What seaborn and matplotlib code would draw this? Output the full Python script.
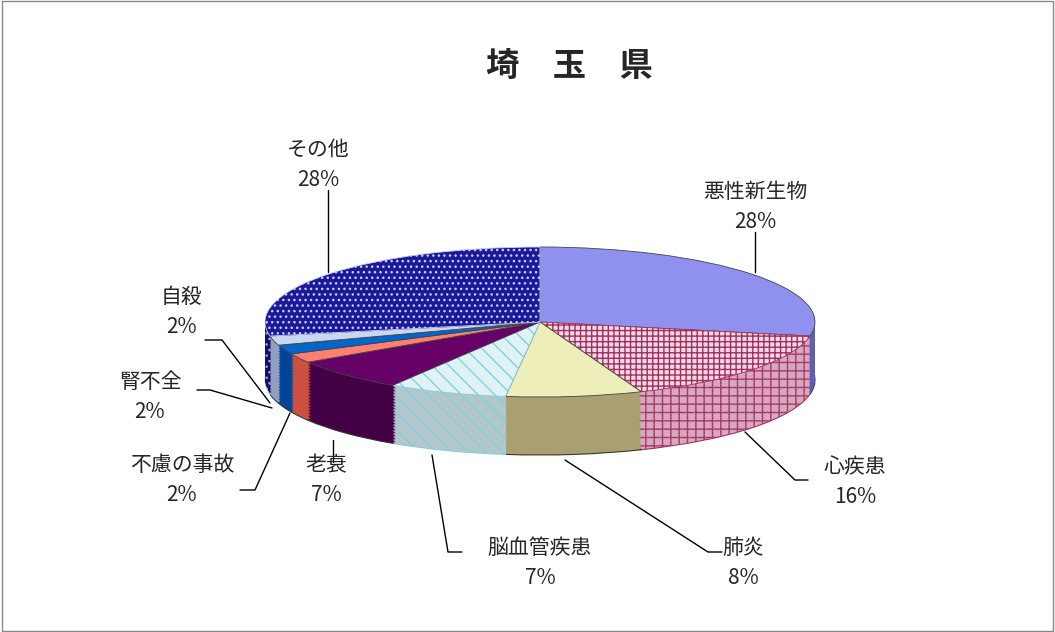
import numpy as np
import seaborn as sns
import matplotlib.pyplot as plt
from matplotlib.patches import Rectangle

sns.set_theme(style="white")
plt.rcParams['font.family'] = ['Noto Sans CJK JP', 'DejaVu Sans']

causes = ['悪性新生物', '心疾患', '肺炎', '脳血管疾患', '老衰', '不慮の事故', '腎不全', '自殺', 'その他']
shares = [28, 16, 8, 7, 7, 2, 2, 2, 28]
top_colors = ['#9090ee', '#f4d8e4', '#eeeebb', '#dff2f4', '#660066', '#ff8070', '#0066cc', '#c8d8f0', '#1a1a99']
side_colors = ['#6060b0', '#d8a8c0', '#a8a070', '#b0c8cc', '#440044', '#cc5040', '#004499', '#90a0c0', '#101066']
hatches = [None, '+++', None, '\\\\', None, None, None, None, '...']
side_hatches = [None, '++', None, '\\\\', None, None, None, None, '...']
hatch_colors = ['none', '#a03060', 'none', '#88ccdd', 'none', 'none', 'none', 'none', '#ccccff']

W, H = 1055, 632
cx, cy, rx, ry, depth = 540, 322, 275, 75, 58
k = rx / ry

fig = plt.figure(figsize=(W / 100, H / 100), dpi=100)
ax = fig.add_axes([0, 0, 1, 1])

def Y(py):
    return (H - py) * k

# side walls: bottom outline first, then a stack of darker pies
w, _ = ax.pie(shares, colors=side_colors, startangle=90, counterclock=False,
              center=(cx, Y(cy + depth)), radius=rx, frame=True,
              wedgeprops=dict(linewidth=0.8, edgecolor='#333333'))
for wd, h, hc in zip(w, side_hatches, hatch_colors):
    if h:
        wd.set_hatch(h); wd.set_edgecolor(hc)
for d in np.arange(depth - 1, 0, -1.5):
    w, _ = ax.pie(shares, colors=side_colors, startangle=90, counterclock=False,
                  center=(cx, Y(cy + d)), radius=rx,
                  wedgeprops=dict(linewidth=0), frame=True)
    for wd, h, hc in zip(w, side_hatches, hatch_colors):
        if h:
            wd.set_hatch(h); wd.set_edgecolor(hc)
# top
w, _ = ax.pie(shares, colors=top_colors, startangle=90, counterclock=False,
              center=(cx, Y(cy)), radius=rx, frame=True,
              wedgeprops=dict(linewidth=0.6, edgecolor='#444444'))
for wd, h, hc in zip(w, hatches, hatch_colors):
    if h:
        wd.set_hatch(h); wd.set_edgecolor(hc)
ax.set_aspect('auto')
ax.set_xlim(0, W)
ax.set_ylim(0, H * k)
ax.axis('off')
fig.patches.append(Rectangle((0.002, 0.002), 0.996, 0.996, transform=fig.transFigure,
                             fill=False, edgecolor='#888888', lw=1))

fig.text(0.54, 0.88, '埼　玉　県', ha='center', fontsize=24, fontweight='bold')

labels = [
    (755, 207, 'center'),
    (855, 482, 'center'),
    (743, 563, 'center'),
    (540, 563, 'center'),
    (326, 480, 'center'),
    (182, 480, 'center'),
    (150, 397, 'center'),
    (182, 312, 'center'),
    (318, 165, 'center'),
]
for (tx, ty, ha), name, v in zip(labels, causes, shares):
    ax.text(tx, Y(ty), f'{name}\n{v}%', ha=ha, va='center', fontsize=15, linespacing=1.45)

segs = [
    [(755, 232), (755, 272)],
    [(808, 480), (795, 480), (745, 432)],
    [(722, 552), (708, 552), (565, 460)],
    [(462, 552), (448, 552), (432, 455)],
    [(333, 462), (333, 440)],
    [(240, 490), (255, 490), (290, 413)],
    [(197, 390), (210, 390), (272, 408)],
    [(205, 340), (222, 340), (270, 403)],
    [(328, 190), (328, 272)],
]
for s in segs:
    xs, ys = zip(*s)
    ax.plot(xs, [Y(y) for y in ys], color='black', lw=1)

fig.savefig('out.png', dpi=100)
